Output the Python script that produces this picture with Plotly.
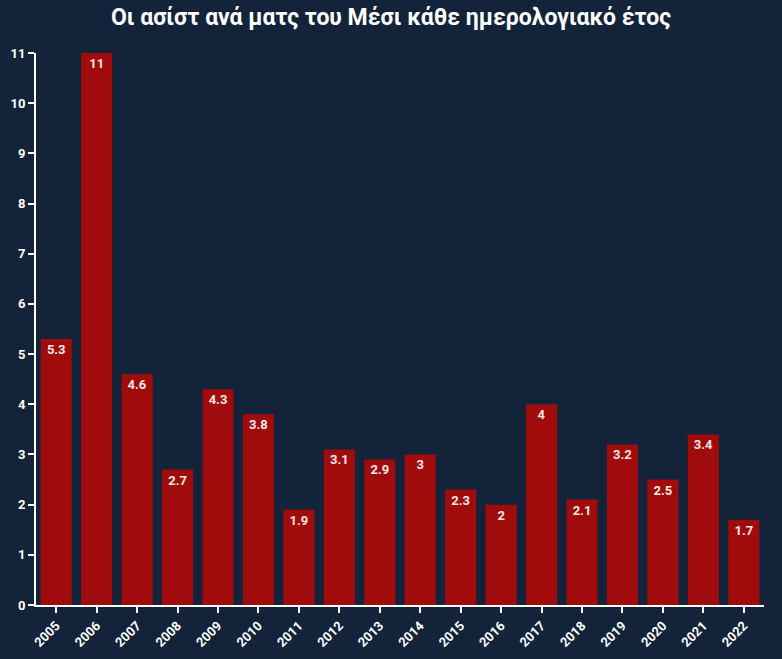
import plotly.graph_objects as go

years = ["2005", "2006", "2007", "2008", "2009", "2010", "2011", "2012", "2013",
         "2014", "2015", "2016", "2017", "2018", "2019", "2020", "2021", "2022"]
assists_per_match = [5.3, 11, 4.6, 2.7, 4.3, 3.8, 1.9, 3.1, 2.9, 3, 2.3, 2, 4, 2.1, 3.2, 2.5, 3.4, 1.7]
title_text = "Οι ασίστ ανά ματς του Μέσι κάθε ημερολογιακό έτος"

BG = "#12233a"
BAR = "#a00c0c"
FONT = "Roboto"

fig = go.Figure(go.Bar(
    x=years, y=assists_per_match,
    marker=dict(color=BAR, line=dict(width=0)),
    text=[f"{v:g}" for v in assists_per_match],
    textposition="inside", insidetextanchor="end",
    textfont=dict(color="#f5e6e6", size=13, family=FONT, weight="bold"),
    textangle=0,
    width=0.77,
    hoverinfo="skip",
))

fig.update_layout(
    width=782, height=659,
    paper_bgcolor=BG, plot_bgcolor=BG,
    margin=dict(l=36, r=18, t=53, b=54, autoexpand=False),
    showlegend=False,
    font=dict(family=FONT, color="white", size=12, weight="bold"),
    title=dict(text=title_text, x=0.5, xanchor="center", y=0.975, yanchor="middle",
               font=dict(family=FONT, size=23, color="white", weight="bold")),
    bargap=0.23,
    uniformtext=dict(minsize=13, mode="show"),
)
fig.update_xaxes(
    type="category", range=[-0.5, 17.5], automargin=False,
    showline=True, linecolor="white", linewidth=2,
    ticks="outside", tickcolor="white", ticklen=6, tickwidth=2,
    tickangle=-45, tickfont=dict(size=13, color="white", family=FONT, weight="bold"),
    showgrid=False, zeroline=False, fixedrange=True,
)
fig.update_yaxes(
    range=[0, 11], dtick=1, tick0=0, automargin=False,
    showline=True, linecolor="white", linewidth=2,
    ticks="outside", tickcolor="white", ticklen=6, tickwidth=2,
    tickfont=dict(size=13, color="white", family=FONT, weight="bold"),
    showgrid=False, zeroline=False, fixedrange=True,
)

fig.write_html("out.html")
